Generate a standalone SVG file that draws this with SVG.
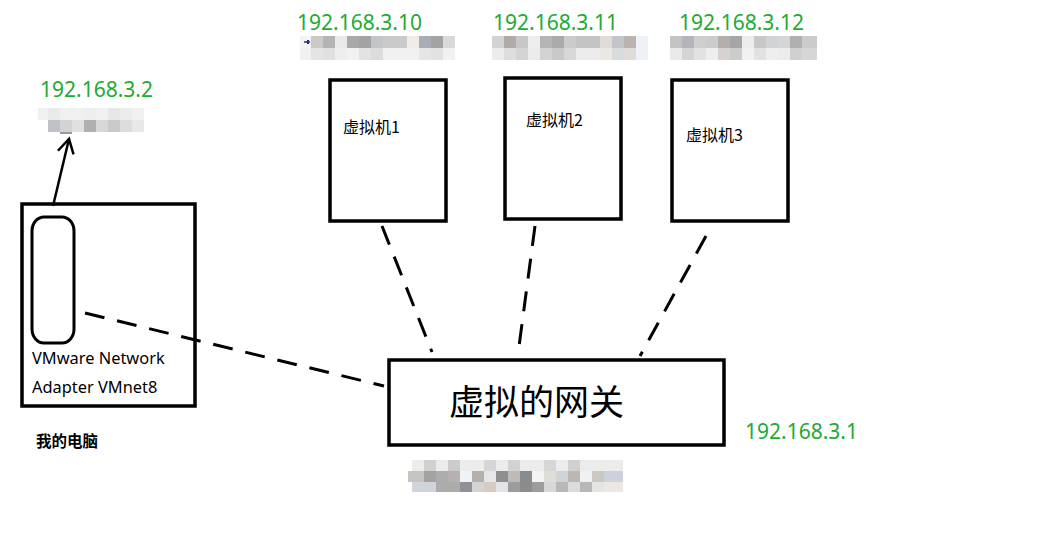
<svg xmlns="http://www.w3.org/2000/svg" width="1061" height="547" viewBox="0 0 1061 547">
<defs>
<style>
.box{fill:#fff;stroke:#000;stroke-width:3.5}
.ip{fill:#22aa33;font-family:"Noto Sans","Liberation Sans",sans-serif;font-size:21px}
.cn{fill:#000;font-family:"Noto Sans CJK SC","Noto Sans",sans-serif}
.en{fill:#000;font-family:"Noto Sans","Liberation Sans",sans-serif;font-size:16.4px}
.dash{fill:none;stroke:#000;stroke-width:3;stroke-dasharray:20 13}
</style>
<marker id="arr" viewBox="0 0 20 20" refX="17" refY="10" markerWidth="20" markerHeight="20" markerUnits="userSpaceOnUse" orient="auto">
<path d="M3,2 L17,10 L3,18" fill="none" stroke="#000" stroke-width="2.5"/>
</marker>
</defs>
<rect width="1061" height="547" fill="#fff"/>

<g id="mosaics">
<g transform="translate(300,36)">
<rect x="0" y="0" width="155" height="12" fill="#e6e6e6"/>
<rect x="11" y="0" width="12" height="12" fill="#cfc9c6"/><rect x="23" y="0" width="12" height="12" fill="#b4b4b4"/><rect x="35" y="0" width="12" height="12" fill="#e8eaec"/><rect x="47" y="0" width="12" height="12" fill="#a9a9a9"/><rect x="59" y="0" width="12" height="12" fill="#a3a3a3"/><rect x="71" y="0" width="12" height="12" fill="#c3c6c9"/><rect x="83" y="0" width="12" height="12" fill="#cacaca"/><rect x="95" y="0" width="12" height="12" fill="#cacaca"/><rect x="107" y="0" width="12" height="12" fill="#f3ebe6"/><rect x="119" y="0" width="12" height="12" fill="#a9aeb6"/><rect x="131" y="0" width="12" height="12" fill="#a3a3a3"/><rect x="143" y="0" width="12" height="12" fill="#d9d9d9"/>
<rect x="0" y="0" width="11" height="12" fill="#f4f4f4"/>
<rect x="4" y="5" width="6" height="2" fill="#666"/><rect x="7" y="4" width="2" height="4" fill="#1133aa"/>
<rect x="0" y="12" width="155" height="12" fill="#f1f1f1"/>
<rect x="11" y="12" width="12" height="12" fill="#e4e4e4"/><rect x="23" y="12" width="12" height="12" fill="#e0e0e0"/><rect x="35" y="12" width="12" height="12" fill="#eeeeee"/><rect x="59" y="12" width="12" height="12" fill="#e3e3e3"/><rect x="71" y="12" width="12" height="12" fill="#dcdcdc"/><rect x="119" y="12" width="12" height="12" fill="#e6e6e6"/><rect x="131" y="12" width="12" height="12" fill="#e2e2e2"/>
</g>
<g transform="translate(492,36)">
<rect x="0" y="0" width="144" height="12" fill="#e4e4e4"/>
<rect x="0" y="0" width="12" height="12" fill="#d2d2d2"/><rect x="12" y="0" width="12" height="12" fill="#b2aaa7"/><rect x="24" y="0" width="12" height="12" fill="#c7c7c7"/><rect x="36" y="0" width="12" height="12" fill="#eeeeee"/><rect x="48" y="0" width="12" height="12" fill="#b4b4b4"/><rect x="60" y="0" width="12" height="12" fill="#ababab"/><rect x="72" y="0" width="12" height="12" fill="#c9cbcd"/><rect x="84" y="0" width="12" height="12" fill="#c3c3c3"/><rect x="96" y="0" width="12" height="12" fill="#c3c3c3"/><rect x="108" y="0" width="12" height="12" fill="#e0dbd6"/><rect x="120" y="0" width="12" height="12" fill="#c2c6cb"/><rect x="132" y="0" width="12" height="12" fill="#bab3ae"/>
<rect x="0" y="12" width="144" height="12" fill="#ececec"/>
<rect x="12" y="12" width="12" height="12" fill="#dedede"/><rect x="24" y="12" width="12" height="12" fill="#d4d4d4"/><rect x="48" y="12" width="12" height="12" fill="#d2d2d2"/><rect x="60" y="12" width="12" height="12" fill="#c9c9c9"/><rect x="72" y="12" width="12" height="12" fill="#d6d8da"/><rect x="108" y="12" width="12" height="12" fill="#ebe7e2"/><rect x="120" y="12" width="12" height="12" fill="#d9dcde"/><rect x="132" y="12" width="12" height="12" fill="#dfdbd8"/>
<rect x="144" y="0" width="12" height="24" fill="#eef2f8"/>
</g>
<g transform="translate(670,36)">
<rect x="0" y="0" width="147" height="12" fill="#cacaca"/>
<rect x="0" y="0" width="12" height="12" fill="#c3c3c3"/><rect x="12" y="0" width="12" height="12" fill="#b2b6ba"/><rect x="24" y="0" width="12" height="12" fill="#cfcfcf"/><rect x="36" y="0" width="12" height="12" fill="#cccccc"/><rect x="48" y="0" width="12" height="12" fill="#b5aeab"/><rect x="60" y="0" width="12" height="12" fill="#a6a6a6"/><rect x="72" y="0" width="12" height="12" fill="#eceeee"/><rect x="84" y="0" width="12" height="12" fill="#c8c8c8"/><rect x="96" y="0" width="12" height="12" fill="#d0d4d6"/><rect x="108" y="0" width="12" height="12" fill="#d6d6d6"/><rect x="120" y="0" width="12" height="12" fill="#b0b0b0"/><rect x="132" y="0" width="15" height="12" fill="#cbcbcb"/>
<rect x="0" y="12" width="147" height="12" fill="#e2e2e2"/>
<rect x="0" y="12" width="12" height="12" fill="#eaeaea"/><rect x="12" y="12" width="12" height="12" fill="#d4d4d4"/><rect x="36" y="12" width="12" height="12" fill="#eeeeee"/><rect x="48" y="12" width="12" height="12" fill="#d7d2cf"/><rect x="60" y="12" width="12" height="12" fill="#cccccc"/><rect x="72" y="12" width="12" height="12" fill="#f1f1f1"/><rect x="96" y="12" width="12" height="12" fill="#eeeeee"/><rect x="108" y="12" width="12" height="12" fill="#ececec"/><rect x="120" y="12" width="12" height="12" fill="#d0d0d0"/><rect x="132" y="12" width="15" height="12" fill="#d6d6d6"/>
</g>
<g transform="translate(38,108)">
<rect x="0" y="0" width="106" height="12" fill="#f0f0f0"/>
<rect x="10" y="0" width="12" height="12" fill="#e8eaec"/><rect x="46" y="0" width="12" height="12" fill="#eeeeee"/><rect x="70" y="0" width="12" height="12" fill="#e6e6e6"/><rect x="82" y="0" width="12" height="12" fill="#ebebeb"/>
<rect x="10" y="12" width="96" height="12" fill="#dedede"/>
<rect x="10" y="12" width="12" height="12" fill="#bfc2c8"/><rect x="22" y="12" width="12" height="12" fill="#d2d3d4"/><rect x="34" y="12" width="12" height="12" fill="#e0e0e0"/><rect x="46" y="12" width="12" height="12" fill="#b2afb1"/><rect x="58" y="12" width="12" height="12" fill="#d7d7d7"/><rect x="70" y="12" width="12" height="12" fill="#cacaca"/><rect x="82" y="12" width="12" height="12" fill="#dddddd"/><rect x="94" y="12" width="12" height="12" fill="#e8e8e8"/>
<rect x="22" y="24" width="12" height="2" fill="#999"/>
</g>
<g transform="translate(408,460)">
<rect x="4" y="0" width="211" height="11" fill="#ececec"/>
<rect x="16" y="0" width="12" height="11" fill="#d0d0d0"/><rect x="40" y="0" width="12" height="11" fill="#cccccc"/><rect x="76" y="0" width="12" height="11" fill="#d6d6d6"/><rect x="100" y="0" width="12" height="11" fill="#d2d2d2"/><rect x="136" y="0" width="12" height="11" fill="#d6d6d6"/><rect x="160" y="0" width="12" height="11" fill="#d0d0d0"/>
<rect x="0" y="11" width="215" height="11" fill="#c6c6c6"/>
<rect x="0" y="11" width="16" height="11" fill="#c8c4c0"/><rect x="16" y="11" width="12" height="11" fill="#a3a3a3"/><rect x="28" y="11" width="12" height="11" fill="#abadae"/><rect x="40" y="11" width="12" height="11" fill="#b6b1ae"/><rect x="52" y="11" width="12" height="11" fill="#f0f3f6"/><rect x="64" y="11" width="12" height="11" fill="#b5b0ab"/><rect x="76" y="11" width="12" height="11" fill="#e6e6ea"/><rect x="88" y="11" width="12" height="11" fill="#8f8f8f"/><rect x="100" y="11" width="12" height="11" fill="#bfbab6"/><rect x="112" y="11" width="12" height="11" fill="#878c92"/><rect x="124" y="11" width="12" height="11" fill="#f4f4f4"/><rect x="136" y="11" width="12" height="11" fill="#e0ddd8"/><rect x="148" y="11" width="12" height="11" fill="#d0d2d6"/><rect x="160" y="11" width="12" height="11" fill="#bcb7b3"/><rect x="172" y="11" width="12" height="11" fill="#eef2f5"/><rect x="184" y="11" width="12" height="11" fill="#cdc7c2"/><rect x="196" y="11" width="19" height="11" fill="#ccd2dc"/>
<rect x="4" y="22" width="211" height="10" fill="#dcdcdc"/>
<rect x="4" y="22" width="24" height="10" fill="#d0d4dc"/><rect x="28" y="22" width="24" height="10" fill="#acacac"/><rect x="52" y="22" width="12" height="10" fill="#8f9196"/><rect x="64" y="22" width="12" height="10" fill="#d2d4d6"/><rect x="76" y="22" width="12" height="10" fill="#d4cbc4"/><rect x="88" y="22" width="12" height="10" fill="#e4e4e8"/><rect x="100" y="22" width="12" height="10" fill="#9c9c9c"/><rect x="112" y="22" width="12" height="10" fill="#8c8c8c"/><rect x="124" y="22" width="12" height="10" fill="#9d9d9d"/><rect x="136" y="22" width="12" height="10" fill="#d8d8d8"/><rect x="148" y="22" width="12" height="10" fill="#b8b8b8"/><rect x="172" y="22" width="12" height="10" fill="#b8b8b8"/><rect x="184" y="22" width="12" height="10" fill="#e4e4e4"/><rect x="196" y="22" width="19" height="10" fill="#ebe8e2"/>
</g>
</g>

<g id="node-pc">
<rect class="box" x="22" y="204" width="173" height="202" style="fill:none"/>
<rect x="32" y="217" width="42" height="126" rx="12" ry="14" fill="none" stroke="#000" stroke-width="3"/>
<text class="en" x="32" y="364">VMware Network</text>
<text class="en" x="32" y="393">Adapter VMnet8</text>
</g>
<text id="label-pc" class="cn" x="36" y="447" font-size="15.5" font-weight="bold">我的电脑</text>

<g id="node-vm1">
<rect class="box" x="330" y="80" width="116" height="141"/>
<text class="cn" x="343" y="133" font-size="16">虚拟机1</text>
</g>
<g id="node-vm2">
<rect class="box" x="505" y="78" width="116" height="141"/>
<text class="cn" x="526" y="126" font-size="16">虚拟机2</text>
</g>
<g id="node-vm3">
<rect class="box" x="672" y="80" width="116" height="141"/>
<text class="cn" x="686" y="141" font-size="16">虚拟机3</text>
</g>
<g id="node-gateway">
<rect class="box" x="389" y="360" width="335" height="85"/>
<text class="cn" x="449" y="415" font-size="35">虚拟的网关</text>
</g>

<g id="connectors">
<line x1="53" y1="206" x2="69" y2="139" stroke="#000" stroke-width="2.5" marker-end="url(#arr)"/>
<line class="dash" x1="85" y1="313" x2="384" y2="386"/>
<line class="dash" x1="382" y1="226" x2="432" y2="352"/>
<line class="dash" x1="535" y1="226" x2="518" y2="354"/>
<line class="dash" x1="706" y1="236" x2="640" y2="356"/>
</g>

<g id="ips">
<text class="ip" x="297" y="30">192.168.3.10</text>
<text class="ip" x="493" y="30">192.168.3.11</text>
<text class="ip" x="679" y="30">192.168.3.12</text>
<text class="ip" x="40" y="97">192.168.3.2</text>
<text class="ip" x="745" y="439">192.168.3.1</text>
</g>
</svg>
